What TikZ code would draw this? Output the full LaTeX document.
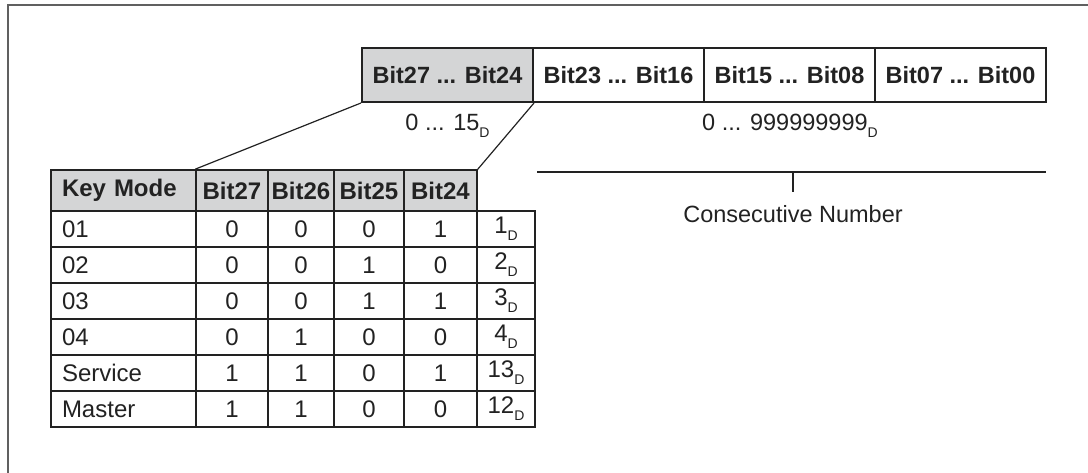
\documentclass[tikz,border=0pt]{standalone}
\usepackage{fontspec}
\setmainfont{Liberation Sans}
\definecolor{ink}{HTML}{222222}
\definecolor{shade}{HTML}{D4D5D6}
\definecolor{framegray}{HTML}{606060}
\newcommand{\Dsub}{\raisebox{-7pt}{\fontsize{14}{14}\selectfont D}}
\newcommand{\tabrow}[7]{%
  \pgfmathsetmacro{\yc}{211+36*(#1-0.5)}%
  \node[keycell] (k#1) at (123.5,\yc) {#2};
  \node[cell, minimum width=72pt] (a#1) at (232,\yc) {#3};
  \node[cell, minimum width=66pt] (b#1) at (301,\yc) {#4};
  \node[cell, minimum width=70pt] (c#1) at (369,\yc) {#5};
  \node[cell, minimum width=73pt] (d#1) at (440.5,\yc) {#6};
  \node[cell, minimum width=58pt] (e#1) at (506,\yc) {#7\Dsub};
}
\tikzset{
  basefont/.style={font=\fontsize{24}{28}\selectfont},
  regcell/.style={draw=ink, line width=2pt, minimum width=171pt, minimum height=54pt, inner sep=0pt, text=ink, font=\bfseries\fontsize{23.5}{28}\selectfont},
  cell/.style={draw=ink, line width=1.6pt, minimum height=36pt, inner sep=0pt, text=ink, basefont},
  keycell/.style={cell, text width=123pt, inner xsep=11pt, align=left},
  headcell/.style={cell, fill=shade, minimum height=41pt, font=\bfseries\fontsize{24}{28}\selectfont},
  lbl/.style={text=ink, inner sep=0pt, font=\fontsize{23.5}{28}\selectfont},
  thin/.style={draw=ink, line width=1.2pt},
}
\begin{document}
\begin{tikzpicture}[x=1pt, y=-1pt]
\useasboundingbox (0,0) rectangle (1088,473);
% frame (top and left edges)
\coordinate (fbl) at (8,473);
\coordinate (ftl) at (8,5);
\coordinate (ftr) at (1088,5);
\draw[framegray, line width=2pt] (fbl) -- (ftl) -- (ftr);
% register
\node[regcell, fill=shade] (r1) at (447.5,75) {Bit27 ... Bit24};
\node[regcell] (r2) at (618.5,75) {Bit23 ... Bit16};
\node[regcell] (r3) at (789.5,75) {Bit15 ... Bit08};
\node[regcell] (r4) at (960.5,75) {Bit07 ... Bit00};
\node[lbl] (l1) at (447.5,126) {0 ... 15\Dsub};
\node[lbl] (l2) at (790,126) {0 ... 999999999\Dsub};
% bracket
\coordinate (bl) at (537,172);
\coordinate (br) at (1046,172);
\coordinate (tt) at (793,172);
\coordinate (tb) at (793,192);
\draw[ink, line width=2pt] (bl) -- (br);
\draw[ink, line width=2pt] (tt) -- (tb);
\node[lbl] (cn) at (793,214) {Consecutive Number};
% table header
\node[headcell, text width=123pt, inner xsep=11pt, align=left] (h0) at (123.5,190.5) {Key Mode};
\node[headcell, minimum width=72pt] (h1) at (232,190.5) {Bit27};
\node[headcell, minimum width=66pt] (h2) at (301,190.5) {Bit26};
\node[headcell, minimum width=70pt] (h3) at (369,190.5) {Bit25};
\node[headcell, minimum width=73pt] (h4) at (440.5,190.5) {Bit24};
% table rows
\tabrow{1}{01}{0}{0}{0}{1}{1}
\tabrow{2}{02}{0}{0}{1}{0}{2}
\tabrow{3}{03}{0}{0}{1}{1}{3}
\tabrow{4}{04}{0}{1}{0}{0}{4}
\tabrow{5}{Service}{1}{1}{0}{1}{13}
\tabrow{6}{Master}{1}{1}{0}{0}{12}
% projection lines
\draw[thin] (r1.south west) -- (h1.north west);
\draw[thin] (r1.south east) -- (h4.north east);
\end{tikzpicture}
\end{document}
